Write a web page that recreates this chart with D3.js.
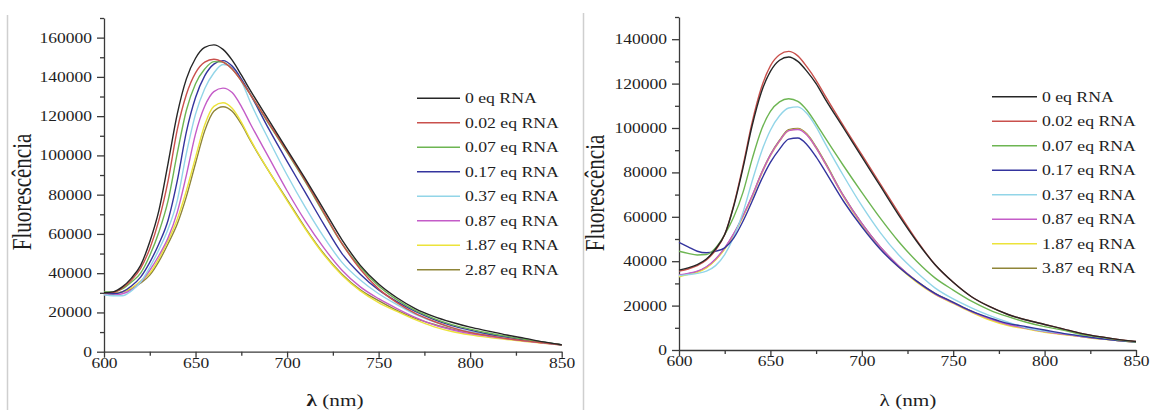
<!DOCTYPE html>
<html>
<head>
<meta charset="utf-8">
<script src="https://cdn.jsdelivr.net/npm/d3@7"></script>
<style>
  body { margin: 0; background: #fff; }
  svg { display: block; }
  text { font-family: "Liberation Serif", "Times New Roman", serif; fill: #1e1e1e; }
</style>
</head>
<body>
<svg id="chart" width="1152" height="410"></svg>
<script>
// Emission wavelengths (nm)
const wavelengths = [600,605,610,615,620,625,630,635,640,645,650,655,660,665,670,675,680,690,700,710,720,730,740,750,760,770,780,790,800,810,820,830,840,850];

const xTicks = [600, 650, 700, 750, 800, 850];
const leftYTicks = [0, 20000, 40000, 60000, 80000, 100000, 120000, 140000, 160000];
const rightYTicks = [0, 20000, 40000, 60000, 80000, 100000, 120000, 140000];

const leftLabels = ["0 eq RNA", "0.02 eq RNA", "0.07 eq RNA", "0.17 eq RNA", "0.37 eq RNA", "0.87 eq RNA", "1.87 eq RNA", "2.87 eq RNA"];
const rightLabels = ["0 eq RNA", "0.02 eq RNA", "0.07 eq RNA", "0.17 eq RNA", "0.37 eq RNA", "0.87 eq RNA", "1.87 eq RNA", "3.87 eq RNA"];

// Left panel: fluorescence intensity per RNA equivalent
const leftEq0    = [30000,30500,33000,37500,44000,56000,72000,96000,121000,139000,149500,155000,156300,154000,148500,141000,133000,118000,103000,88000,72500,57000,44000,34500,27500,22000,18000,15000,12500,10500,8500,6800,5000,3500];
const leftEq002  = [30000,30200,32500,36500,42500,52500,67000,87000,113000,131000,142000,147500,149000,147500,144000,138000,131000,116500,102000,87000,71000,55000,42000,32000,25000,19500,15500,12300,9800,8200,6700,5500,4500,3500];
const leftEq007  = [30500,30500,32000,35500,40000,49000,61000,77000,101000,123000,136500,144000,147800,147500,144000,138000,131000,116000,101500,86500,70500,55000,43000,33500,26500,21000,17000,13800,11500,9500,7800,6200,4800,3500];
const leftEq017  = [30000,29500,30500,33500,38000,45500,55000,67000,87000,112000,129500,140500,146500,148300,145500,139000,131000,113500,97000,81000,65000,50000,39500,31500,25500,20500,16500,13300,11000,9000,7500,6000,4800,3500];
const leftEq037  = [29000,28500,28500,31000,35500,43000,52000,62500,77000,101000,121000,134000,142000,146300,145000,138000,127000,108000,90000,73500,58500,45500,36500,29500,24000,19000,15300,12300,10200,8600,7100,5800,4600,3500];
const leftEq087  = [29000,28800,29500,31500,35500,41500,49000,58000,71000,90000,111000,125000,132500,134300,132000,125000,116000,99000,82000,66500,53000,41500,33000,27000,22000,17500,13800,11200,9200,7900,6600,5400,4400,3400];
const leftEq187  = [29500,29500,30500,32500,36000,40000,47500,56500,67500,82000,99000,115500,125000,126800,124000,117000,108000,92000,77000,62500,49500,39000,31000,25000,20500,16300,12800,10300,8600,7300,6200,5200,4300,3400];
const leftEq287  = [30000,29800,30500,32000,35000,39000,46000,55000,65000,79000,96000,112500,122500,124800,122500,116000,107500,92000,77500,63000,50000,39500,31500,26000,21000,17000,14000,11500,10000,8500,7000,5800,4600,3500];

// Right panel: fluorescence intensity per RNA equivalent
const rightEq0   = [36000,37000,38500,41000,45500,52000,65000,82000,101000,116000,125500,130500,132000,130000,125500,120000,113000,100000,87000,74000,61000,49000,38500,30500,24000,19500,16000,13500,11500,9500,7500,6000,4800,3800];
const rightEq002 = [35500,36500,38000,40500,45000,52000,65500,83000,102500,118000,128000,133000,134500,132500,127500,121500,114500,101000,88000,75000,62000,49500,38500,30500,24000,19500,16000,13500,11500,9500,7500,6000,4800,3800];
const rightEq007 = [44500,43500,42800,43000,46000,52000,60000,71000,86000,99000,107500,111800,113200,112000,108000,102000,95500,83000,71000,59500,49000,40000,32500,27000,22000,18000,15000,12500,10500,9000,7000,5800,4600,3600];
const rightEq017 = [48500,46500,44500,43800,44500,46000,50500,58000,67000,76500,84500,90500,95000,95500,92500,87000,80500,67000,55500,45500,37500,31000,25500,21500,17500,14500,12000,10500,9000,7500,6300,5200,4300,3600];
const rightEq037 = [33500,34000,34500,35500,38000,43000,51000,62000,76000,89000,99000,105500,109000,109500,106500,100500,93000,78500,65000,53000,43000,35000,28000,23000,19000,15500,12500,10000,8500,7500,6300,5300,4400,3600];
const rightEq087 = [33800,34500,35500,37500,41000,46000,52500,60500,69500,79300,87800,94200,98800,99300,96800,91000,84000,69300,57000,46500,38000,31000,25300,21200,17300,14000,11500,9800,8300,7200,6100,5100,4300,3600];
const rightEq187 = [33000,34000,35000,37000,40500,45500,52000,60000,69000,79000,87500,94000,98800,99500,97000,91000,84000,69000,56500,46000,37500,30500,25000,21000,17000,13500,11000,9500,8000,7000,6000,5000,4200,3500];
const rightEq387 = [33500,34300,35300,37300,40800,45800,52300,60300,69300,79500,88000,94500,99200,99800,97300,91500,84500,69500,57000,46500,38000,31000,25500,21500,17500,14000,11500,9800,8300,7200,6100,5100,4300,3600];

const leftSeries  = [leftEq0, leftEq002, leftEq007, leftEq017, leftEq037, leftEq087, leftEq187, leftEq287];
const rightSeries = [rightEq0, rightEq002, rightEq007, rightEq017, rightEq037, rightEq087, rightEq187, rightEq387];

const seriesColors = ["#262626", "#c9504c", "#6db552", "#34349e", "#92d5e8", "#c45cc8", "#ece33a", "#8f8538"];

const svg = d3.select("#chart");

// Thin grey frame lines at the left edge of each panel
svg.append("line").attr("x1", 7.5).attr("x2", 7.5).attr("y1", 15).attr("y2", 410)
  .attr("stroke", "#cfcfcf").attr("stroke-width", 1.5);
svg.append("line").attr("x1", 583.5).attr("x2", 583.5).attr("y1", 13).attr("y2", 410)
  .attr("stroke", "#cfcfcf").attr("stroke-width", 1.5);

const TEXT_STRETCH = 1.25;

function drawPanel(p) {
  const x = d3.scaleLinear().domain([600, 850]).range(p.xRange);
  const y = d3.scaleLinear().domain([0, p.yMax]).range(p.yRange);
  const g = svg.append("g");

  // minor ticks
  const minorY = d3.range(10000, p.yMax + 1, 20000);
  g.append("g").attr("transform", `translate(${p.xRange[0]},0)`)
    .call(d3.axisLeft(y).tickValues(minorY).tickSize(4).tickFormat(""))
    .call(s => s.select(".domain").remove());
  g.append("g").attr("transform", `translate(0,${p.yRange[0]})`)
    .call(d3.axisBottom(x).tickValues([625, 675, 725, 775, 825]).tickSize(4).tickFormat(""))
    .call(s => s.select(".domain").remove());

  // y axis
  const ya = g.append("g").attr("transform", `translate(${p.xRange[0]},0)`)
    .call(d3.axisLeft(y).tickValues(p.yTicks).tickSize(7).tickSizeOuter(0).tickPadding(5).tickFormat(d3.format("d")));
  ya.selectAll("text")
    .attr("font-size", 14)
    .attr("x", -12 / TEXT_STRETCH)
    .attr("transform", `scale(${TEXT_STRETCH},1)`);

  // x axis
  const xa = g.append("g").attr("transform", `translate(0,${p.yRange[0]})`)
    .call(d3.axisBottom(x).tickValues(xTicks).tickSize(6).tickSizeOuter(0).tickPadding(0).tickFormat(d3.format("d")));
  xa.selectAll("text")
    .attr("font-size", 14)
    .attr("transform", `scale(${TEXT_STRETCH},1)`);

  g.selectAll(".domain, .tick line").attr("stroke", "#3a3a3a").attr("stroke-width", 1.3);

  // y axis title
  g.append("text")
    .attr("transform", `translate(${p.yTitle[0]},${p.yTitle[1]}) scale(${TEXT_STRETCH},1) rotate(-90)`)
    .attr("text-anchor", "middle")
    .attr("font-size", 21)
    .text("Fluorescência");

  // x axis title
  const xt = g.append("text")
    .attr("transform", `translate(${p.xTitle[0]},${p.xTitle[1]}) scale(${TEXT_STRETCH},1)`)
    .attr("text-anchor", "middle")
    .attr("font-size", 17);
  xt.append("tspan").attr("font-weight", p.boldLambda ? "bold" : "normal").text("λ");
  xt.append("tspan").text(" (nm)");

  // spectra
  const line = d3.line()
    .x((d, i) => x(wavelengths[i]))
    .y(d => y(d))
    .curve(d3.curveMonotoneX);
  g.append("g").selectAll("path")
    .data(p.series.map((s, i) => ({ values: s, color: seriesColors[i] })).reverse())
    .join("path")
    .attr("d", d => line(d.values))
    .attr("fill", "none")
    .attr("stroke", d => d.color)
    .attr("stroke-width", 1.4)
    .attr("stroke-linejoin", "round");

  // legend
  const lg = g.append("g");
  p.labels.forEach((lab, i) => {
    const ry = p.legend.y0 + i * p.legend.step;
    lg.append("line")
      .attr("x1", p.legend.x1).attr("x2", p.legend.x2)
      .attr("y1", ry).attr("y2", ry)
      .attr("stroke", seriesColors[i]).attr("stroke-width", 1.6);
    lg.append("text")
      .attr("transform", `translate(${p.legend.tx},${ry + 5}) scale(1.18,1)`)
      .attr("font-size", 15)
      .text(lab);
  });
}

drawPanel({
  xRange: [104, 561.7], yRange: [351.7, 18], yMax: 170000, yTicks: leftYTicks,
  series: leftSeries, labels: leftLabels,
  yTitle: [31, 192], xTitle: [335, 406], boldLambda: true,
  legend: { x1: 417, x2: 460, tx: 465, y0: 98.3, step: 24.5 }
});

drawPanel({
  xRange: [679, 1136], yRange: [350, 17], yMax: 150000, yTicks: rightYTicks,
  series: rightSeries, labels: rightLabels,
  yTitle: [604, 193], xTitle: [908, 406], boldLambda: false,
  legend: { x1: 992, x2: 1037, tx: 1042, y0: 96.7, step: 24.5 }
});
</script>
</body>
</html>
